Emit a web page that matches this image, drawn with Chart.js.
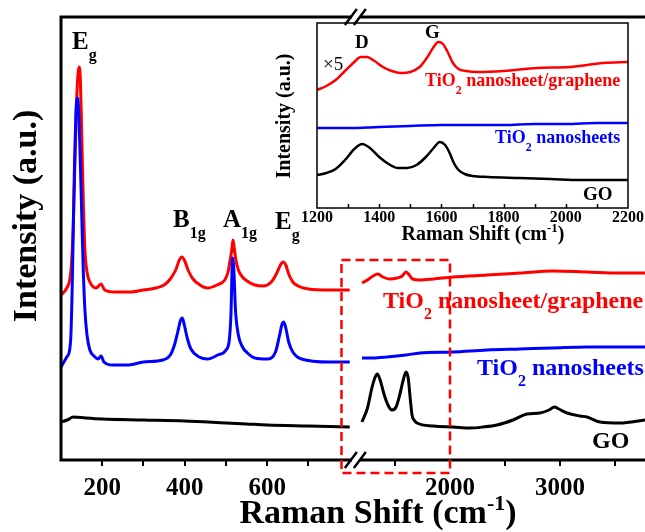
<!DOCTYPE html>
<html>
<head>
<meta charset="utf-8">
<title>Raman spectra</title>
<script src="https://cdn.jsdelivr.net/npm/chart.js@4/dist/chart.umd.min.js"></script>
<style>
  body { margin: 0; background: #fff; }
  #wrap { position: relative; width: 645px; height: 532px; overflow: hidden; }
  #main { position: absolute; left: 0; top: 0; }
  #inset { position: absolute; left: 250px; top: 0; }
</style>
</head>
<body>
<div id="wrap">
  <canvas id="main" width="645" height="532"></canvas>
  <canvas id="inset" width="395" height="250"></canvas>
</div>
<script>
// ---- main plot data (Raman shift in cm-1, intensity in arbitrary units) ----
const redShift = [100, 114, 122, 126, 130, 134, 138, 141, 144, 147, 150, 154, 158, 163, 170, 185, 197, 206, 230, 270, 300, 330, 350, 365, 378, 387, 393, 399, 408, 420, 437, 455, 478, 497, 505, 510, 514, 517, 520, 524, 530, 540, 551, 570, 590, 610, 622, 632, 638, 645, 652, 662, 675, 700, 750, 800,
  1200, 1250, 1300, 1345, 1390, 1450, 1520, 1565, 1600, 1630, 1660, 1727, 1850, 2027, 2336, 2636, 2936, 3245, 3545, 3773];
const redInt = [165, 172, 182, 200, 240, 300, 360, 385, 393, 380, 330, 260, 210, 188, 178, 172, 176, 170, 168, 168, 170, 172, 175, 181, 190, 200, 203, 200, 190, 181, 175, 172, 175, 180, 188, 200, 210, 220, 212, 200, 190, 183, 179, 175, 174, 178, 186, 195, 198, 195, 186, 178, 174, 171, 170, 170,
  177, 180, 184, 186, 183, 181, 182, 184, 188, 185, 181, 180, 181, 183, 185, 187, 189, 188, 187, 187];

const blueShift = [100, 114, 120, 124, 127, 130, 133, 136, 139, 142, 146, 150, 154, 158, 163, 170, 180, 190, 197, 204, 225, 260, 300, 347, 365, 375, 383, 390, 394, 399, 406, 415, 435, 455, 480, 500, 508, 512, 516, 519, 523, 530, 540, 552, 570, 600, 620, 630, 636, 640, 645, 652, 662, 683, 750, 800,
  1200, 1300, 1427, 1600, 1727, 2027, 2336, 2636, 2936, 3245, 3545, 3773];
const blueInt = [93, 103, 108, 125, 170, 235, 300, 345, 362, 355, 310, 250, 190, 150, 125, 110, 104, 101, 104, 98, 95, 95, 98, 100, 105, 115, 128, 140, 142, 135, 122, 111, 103, 101, 105, 110, 120, 145, 202, 190, 150, 125, 113, 107, 102, 101, 108, 125, 136, 138, 132, 118, 108, 101, 98, 98,
  102, 102, 103, 105, 107, 108, 110, 111, 112, 113, 113, 113];

const blackShift = [100, 115, 130, 160, 200, 300, 400, 500, 550, 600, 700, 800,
  1200, 1250, 1290, 1320, 1340, 1365, 1400, 1440, 1473, 1510, 1545, 1575, 1600, 1620, 1640, 1655, 1680, 1700, 1850, 2027, 2182, 2300, 2427, 2573, 2700, 2818, 2900, 2950, 2990, 3064, 3182, 3245, 3364, 3545, 3773];
const blackInt = [38, 40, 43, 42, 41, 40, 39, 37, 36, 35, 34, 33,
  38, 52, 72, 83, 86, 80, 66, 54, 50, 53, 66, 80, 88, 82, 60, 45, 39, 37, 34, 33, 32, 33, 35, 40, 46, 47, 50, 53, 51, 47, 44, 43, 38, 37, 40];

const mainMajorTicks = [200, 400, 600, 2000, 3000];
const mainMinorTicks = [300, 500, 700, 1500, 2500, 3500];

// ---- inset data (x5 region of D and G bands) ----
const insetRedShift = [1200, 1230, 1260, 1290, 1320, 1340, 1360, 1385, 1412, 1440, 1470, 1500, 1530, 1555, 1575, 1590, 1605, 1620, 1637, 1655, 1680, 1714, 1800, 1907, 2013, 2120, 2200];
const insetRedInt = [118, 122, 128, 137, 146, 151, 151, 147, 141, 137, 135, 136, 141, 151, 161, 166, 164, 156, 145, 139, 137, 136, 137, 140, 141, 145, 146];
const insetBlueShift = [1200, 1300, 1400, 1500, 1600, 1700, 1800, 1900, 2000, 2100, 2200];
const insetBlueInt = [80, 80, 81, 82, 83, 83, 83, 84, 84, 85, 85];
const insetBlackShift = [1200, 1230, 1260, 1290, 1320, 1345, 1370, 1400, 1430, 1460, 1490, 1520, 1550, 1575, 1595, 1612, 1625, 1640, 1655, 1675, 1700, 1750, 1850, 1950, 2050, 2200];
const insetBlackInt = [33, 35, 39, 48, 59, 64, 60, 51, 44, 40, 40, 43, 51, 60, 66, 63, 56, 45, 38, 34, 32, 31, 30, 29, 28, 28];
const insetTicks = [1200, 1400, 1600, 1800, 2000, 2200];

const SERIF = '"Liberation Serif", "Times New Roman", serif';

// broken x axis: 100-800 at full scale, 1200-3773 compressed
const LEFT_END = 800;
const RIGHT_START = 1200;
const RIGHT_U0 = 829.7;
const RIGHT_K = 0.11 / 0.4125;
function toAxis(v) {
  return v <= LEFT_END ? v : RIGHT_U0 + (v - RIGHT_START) * RIGHT_K;
}

function brokenPoints(xs, ys) {
  const pts = [];
  for (let i = 0; i < xs.length; i++) {
    if (i > 0 && xs[i - 1] <= LEFT_END && xs[i] >= RIGHT_START) {
      pts.push({ x: (toAxis(xs[i - 1]) + toAxis(xs[i])) / 2, y: null });
    }
    pts.push({ x: toAxis(xs[i]), y: ys[i] });
  }
  return pts;
}

function plainPoints(xs, ys) {
  return xs.map((x, i) => ({ x: x, y: ys[i] }));
}

// text with sub/superscript parts: [text, 'sub' | 'sup' | '']
function richText(ctx, parts, x, y, size, color, opts) {
  opts = opts || {};
  const weight = opts.weight || 'bold';
  const small = Math.round(size * 0.65);
  const widths = parts.map(p => {
    ctx.font = weight + ' ' + (p[1] ? small : size) + 'px ' + SERIF;
    return ctx.measureText(p[0]).width;
  });
  const total = widths.reduce((a, b) => a + b, 0);
  let cx = opts.align === 'center' ? x - total / 2 : x;
  ctx.save();
  ctx.fillStyle = color;
  ctx.textAlign = 'left';
  ctx.textBaseline = 'alphabetic';
  parts.forEach((p, i) => {
    ctx.font = weight + ' ' + (p[1] ? small : size) + 'px ' + SERIF;
    let dy = 0;
    if (p[1] === 'sub') dy = size * 0.45;
    if (p[1] === 'sup') dy = -size * 0.38;
    ctx.fillText(p[0], cx, y + dy);
    cx += widths[i];
  });
  ctx.restore();
}

const mainDecor = {
  id: 'mainDecor',
  afterDraw(chart) {
    const { ctx, chartArea: a, scales: { x, y } } = chart;
    ctx.save();
    ctx.strokeStyle = '#000';
    ctx.lineWidth = 3;
    ctx.beginPath();
    ctx.moveTo(a.left, a.top);
    ctx.lineTo(a.right, a.top);
    ctx.moveTo(a.left, a.top - 1.5);
    ctx.lineTo(a.left, a.bottom + 1.5);
    ctx.moveTo(a.left, a.bottom);
    ctx.lineTo(a.right, a.bottom);
    ctx.stroke();

    // tick marks
    ctx.lineWidth = 2;
    ctx.beginPath();
    mainMajorTicks.concat(mainMinorTicks).forEach(v => {
      const px = Math.round(x.getPixelForValue(toAxis(v)));
      ctx.moveTo(px, a.bottom);
      ctx.lineTo(px, a.bottom + 6);
    });
    ctx.stroke();

    // axis break marks
    const bx = (x.getPixelForValue(toAxis(LEFT_END)) + x.getPixelForValue(toAxis(RIGHT_START))) / 2;
    [a.top, a.bottom].forEach(by => {
      ctx.fillStyle = '#fff';
      ctx.fillRect(bx - 4, by - 3, 8, 6);
      ctx.lineWidth = 2.5;
      ctx.beginPath();
      ctx.moveTo(bx - 11, by + 8);
      ctx.lineTo(bx + 1, by - 8);
      ctx.moveTo(bx - 2, by + 8);
      ctx.lineTo(bx + 10, by - 8);
      ctx.stroke();
    });

    // dashed box marking the inset region
    ctx.strokeStyle = '#ff0000';
    ctx.lineWidth = 2.5;
    ctx.setLineDash([9, 5]);
    const rx1 = x.getPixelForValue(toAxis(780));
    const rx2 = x.getPixelForValue(toAxis(2000));
    const ry1 = y.getPixelForValue(200);
    const ry2 = y.getPixelForValue(-13);
    ctx.strokeRect(rx1, ry1, rx2 - rx1, ry2 - ry1);
    ctx.setLineDash([]);
    ctx.restore();

    // tick labels
    ctx.save();
    ctx.fillStyle = '#000';
    ctx.font = 'bold 25px ' + SERIF;
    ctx.textAlign = 'center';
    ctx.textBaseline = 'alphabetic';
    mainMajorTicks.forEach(v => {
      ctx.fillText(String(v), x.getPixelForValue(toAxis(v)), 495);
    });
    // y title
    ctx.translate(27, 216);
    ctx.rotate(-Math.PI / 2);
    ctx.font = 'bold 34px ' + SERIF;
    ctx.textBaseline = 'middle';
    ctx.fillText('Intensity (a.u.)', 0, 0);
    ctx.restore();

    // x title
    richText(ctx, [['Raman Shift (cm', ''], ['-1', 'sup'], [')', '']], 378, 523, 34, '#000', { align: 'center' });

    // band labels
    richText(ctx, [['E', ''], ['g', 'sub']], 72, 49, 25, '#000');
    richText(ctx, [['B', ''], ['1g', 'sub']], 173, 227, 25, '#000');
    richText(ctx, [['A', ''], ['1g', 'sub']], 223, 227, 25, '#000');
    richText(ctx, [['E', ''], ['g', 'sub']], 275, 229, 25, '#000');

    // series labels
    richText(ctx, [['TiO', ''], ['2', 'sub'], [' nanosheet/graphene', '']], 383, 308, 24, '#ff0000');
    richText(ctx, [['TiO', ''], ['2', 'sub'], [' nanosheets', '']], 477, 375, 24, '#0000ff');
    richText(ctx, [['GO', '']], 592, 448, 24, '#000');
  }
};

const insetDecor = {
  id: 'insetDecor',
  afterDraw(chart) {
    const { ctx, chartArea: a, scales: { x } } = chart;
    ctx.save();
    ctx.strokeStyle = '#000';
    ctx.lineWidth = 1.5;
    ctx.strokeRect(a.left, a.top, a.right - a.left, a.bottom - a.top);
    ctx.beginPath();
    for (let v = 1300; v < 2200; v += 100) {
      const px = Math.round(x.getPixelForValue(v)) + 0.5;
      ctx.moveTo(px, a.bottom);
      ctx.lineTo(px, a.bottom - 4);
    }
    ctx.stroke();
    ctx.fillStyle = '#000';
    ctx.font = 'bold 16px ' + SERIF;
    ctx.textAlign = 'center';
    insetTicks.forEach(v => ctx.fillText(String(v), x.getPixelForValue(v), 222));
    ctx.translate(35, 116);
    ctx.rotate(-Math.PI / 2);
    ctx.font = 'bold 20px ' + SERIF;
    ctx.textBaseline = 'middle';
    ctx.fillText('Intensity (a.u.)', 0, 0);
    ctx.restore();

    richText(ctx, [['Raman Shift (cm', ''], ['-1', 'sup'], [')', '']], 233, 240, 20, '#000', { align: 'center' });
    richText(ctx, [['D', '']], 105, 48, 19, '#000');
    richText(ctx, [['G', '']], 175, 38, 19, '#000');
    richText(ctx, [['\u00d75', '']], 73, 70, 19, '#000', { weight: 'normal' });
    richText(ctx, [['TiO', ''], ['2', 'sub'], [' nanosheet/graphene', '']], 175, 86, 18, '#ff0000');
    richText(ctx, [['TiO', ''], ['2', 'sub'], [' nanosheets', '']], 245, 143, 18, '#0000ff');
    richText(ctx, [['GO', '']], 333, 200, 19, '#000');
  }
};

function lineSet(data, color, width) {
  return {
    data: data,
    borderColor: color,
    borderWidth: width,
    pointRadius: 0,
    fill: false,
    spanGaps: false,
    cubicInterpolationMode: 'monotone'
  };
}

new Chart(document.getElementById('main').getContext('2d'), {
  type: 'line',
  data: {
    datasets: [
      lineSet(brokenPoints(blackShift, blackInt), '#000000', 3),
      lineSet(brokenPoints(blueShift, blueInt), '#0000ff', 3),
      lineSet(brokenPoints(redShift, redInt), '#ff0000', 3)
    ]
  },
  options: {
    responsive: false,
    animation: false,
    layout: { padding: { left: 61, top: 17, right: 0, bottom: 72 } },
    plugins: { legend: { display: false }, tooltip: { enabled: false } },
    scales: {
      x: { type: 'linear', display: false, min: 100, max: toAxis(3773) },
      y: { type: 'linear', display: false, min: 0, max: 443 }
    }
  },
  plugins: [mainDecor]
});

new Chart(document.getElementById('inset').getContext('2d'), {
  type: 'line',
  data: {
    datasets: [
      lineSet(plainPoints(insetBlackShift, insetBlackInt), '#000000', 2.5),
      lineSet(plainPoints(insetBlueShift, insetBlueInt), '#0000ff', 2.5),
      lineSet(plainPoints(insetRedShift, insetRedInt), '#ff0000', 2.5)
    ]
  },
  options: {
    responsive: false,
    animation: false,
    layout: { padding: { left: 67, top: 23, right: 17, bottom: 42 } },
    plugins: { legend: { display: false }, tooltip: { enabled: false } },
    scales: {
      x: { type: 'linear', display: false, min: 1200, max: 2200 },
      y: { type: 'linear', display: false, min: 0, max: 185 }
    }
  },
  plugins: [insetDecor]
});
</script>
</body>
</html>
